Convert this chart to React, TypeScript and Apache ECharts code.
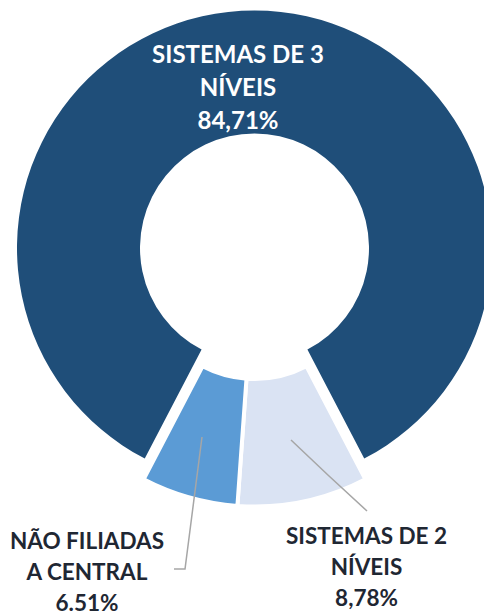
import React, { useEffect, useRef } from 'react';
import * as echarts from 'echarts';

const categories = ['SISTEMAS DE 3\nNÍVEIS', 'SISTEMAS DE 2\nNÍVEIS', 'NÃO FILIADAS\nA CENTRAL'];
const values = [84.71, 8.78, 6.51];
const valueLabels = ['84,71%', '8,78%', '6.51%'];
const colors = ['#1F4E79', '#DAE3F3', '#5B9BD5'];

const START = 90 + (values[0] * 3.6) / 2;
const CLEAR = 'rgba(0,0,0,0)';

export default function App() {
  const ref = useRef<HTMLDivElement>(null);
  useEffect(() => {
    if (!ref.current) return;
    const chart = echarts.init(ref.current, null, { renderer: 'svg' });
    const fmt = (p: any) => `${categories[p.dataIndex]}\n${valueLabels[p.dataIndex]}`;
    const dataA = values.map((v, i) => ({
      name: categories[i],
      value: v,
      itemStyle: i === 0 ? { color: colors[0] } : { color: CLEAR },
      label: { show: i === 0 },
      labelLine: { show: false },
    }));
    const dataB = values.map((v, i) => ({
      name: categories[i],
      value: v,
      itemStyle:
        i === 0
          ? { color: CLEAR, borderWidth: 0 }
          : { color: colors[i], borderColor: '#ffffff', borderWidth: 4 },
    }));
    const dataC = values.map((v, i) => ({
      name: categories[i],
      value: v,
      itemStyle: { color: CLEAR, borderWidth: 0 },
      label: { show: i !== 0 },
      labelLine: { show: i !== 0 },
    }));
    const common = {
      type: 'pie',
      startAngle: START,
      clockwise: true,
      avoidLabelOverlap: false,
      emphasis: { disabled: true },
      silent: true,
    };
    chart.setOption({
      animation: false,
      series: [
        {
          ...common,
          z: 2,
          center: [254.5, 248],
          radius: [114.5, 237.5],
          data: dataA,
          label: {
            position: 'inside',
            formatter: fmt,
            color: '#ffffff',
            fontFamily: 'Lato',
            fontWeight: 'bold',
            fontSize: 24,
            lineHeight: 33,
            align: 'center',
          },
          labelLayout: () => ({ x: 238, y: 86, align: 'center', verticalAlign: 'middle' }),
        },
        {
          ...common,
          z: 2,
          center: [254.5, 266.5],
          radius: [112.5, 240],
          data: dataB,
          label: { show: false },
          labelLine: { show: false },
        },
        {
          ...common,
          z: 5,
          center: [254.5, 266.5],
          radius: [112.5, 240],
          data: dataC,
          label: {
            position: 'outside',
            formatter: fmt,
            color: '#1f2733',
            fontFamily: 'Lato',
            fontWeight: 'bold',
            fontSize: 22.5,
            lineHeight: 31,
            align: 'center',
          },
          labelLine: { lineStyle: { color: '#A6A6A6', width: 1.5 } },
          labelLayout: (params: any) =>
            params.dataIndex === 1
              ? {
                  x: 366.5,
                  y: 566,
                  align: 'center',
                  verticalAlign: 'middle',
                  labelLinePoints: [
                    [291, 440],
                    [329, 476],
                    [367, 511],
                  ],
                }
              : {
                  x: 87,
                  y: 571,
                  align: 'center',
                  verticalAlign: 'middle',
                  labelLinePoints: [
                    [202, 437],
                    [185, 569],
                    [174, 569],
                  ],
                },
        },
      ],
    });
    return () => chart.dispose();
  }, []);
  return (
    <div
      ref={ref}
      style={{ position: 'absolute', left: 0, top: 0, width: 484, height: 611, background: '#ffffff' }}
    />
  );
}
